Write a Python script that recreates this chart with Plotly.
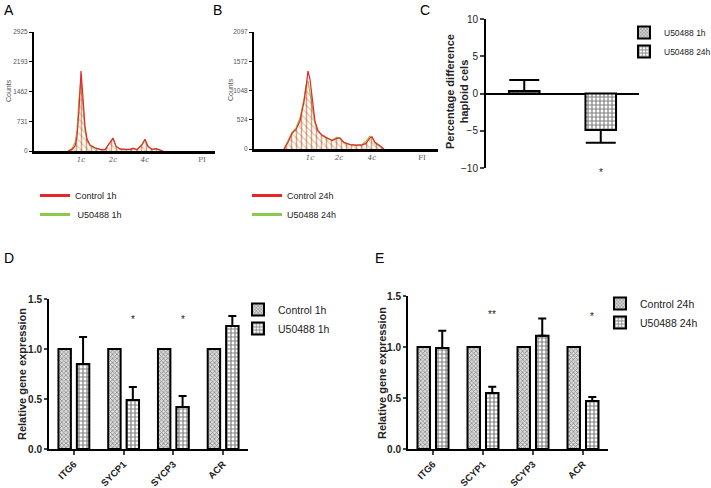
import plotly.graph_objects as go

W, H = 711, 488

# ---------------- data ----------------
# Panel A: flow cytometry histogram (1h)
hist_a_x = [34, 38, 41, 43, 45, 47, 49, 51, 53, 56, 61, 66, 71, 76, 79, 82, 86, 91, 96, 99, 103, 108, 111, 114, 118, 122, 126, 129]
ctrl_1h_counts = [0, 40, 120, 350, 1000, 1966, 1300, 600, 300, 150, 80, 40, 30, 200, 320, 120, 50, 40, 40, 70, 30, 150, 290, 120, 40, 60, 20, 0]
u_1h_counts = [0, 60, 200, 500, 1300, 1750, 1100, 500, 250, 130, 70, 40, 40, 220, 300, 100, 40, 40, 30, 50, 40, 170, 280, 100, 40, 50, 20, 0]
hist_a_ticks = [0, 731, 1462, 2193, 2925]
hist_a_xticks = [47, 79, 111, 168]
hist_a_xlabels = ["<i>1c</i>", "<i>2c</i>", "<i>4c</i>", "PI"]

# Panel B: flow cytometry histogram (24h)
hist_b_x = [30, 34, 38, 42, 46, 50, 52, 54, 56, 58, 61, 64, 68, 73, 78, 83, 86, 90, 96, 102, 108, 112, 116, 118, 121, 126, 130]
ctrl_24h_counts = [0, 120, 280, 350, 500, 850, 1100, 1398, 1250, 900, 500, 330, 250, 200, 150, 190, 200, 120, 80, 70, 70, 100, 200, 220, 120, 60, 0]
u_24h_counts = [0, 150, 300, 380, 560, 900, 1150, 1220, 1000, 750, 450, 320, 240, 190, 160, 210, 190, 110, 80, 70, 80, 140, 230, 200, 100, 40, 0]
hist_b_ticks = [0, 524, 1048, 1572, 2097]
hist_b_xticks = [56, 85, 118, 168]
hist_b_xlabels = ["<i>1c</i>", "<i>2c</i>", "<i>4c</i>", "FI"]

# Panel C: percentage difference haploid cells
c_groups = ["U50488 1h", "U50488 24h"]
c_values = [0.35, -4.9]
c_err_up = [1.45, 0.0]
c_err_down = [0.0, 1.7]
c_sig = ["", "*"]

# Panel D: relative gene expression 1h
d_genes = ["ITG6", "SYCP1", "SYCP3", "ACR"]
d_control = [1.0, 1.0, 1.0, 1.0]
d_treated = [0.85, 0.49, 0.42, 1.23]
d_treated_err = [0.27, 0.13, 0.11, 0.10]
d_sig = ["", "*", "*", ""]

# Panel E: relative gene expression 24h
e_genes = ["ITG6", "SCYP1", "SCYP3", "ACR"]
e_control = [1.0, 1.0, 1.0, 1.0]
e_treated = [0.99, 0.55, 1.11, 0.47]
e_treated_err = [0.17, 0.06, 0.17, 0.04]
e_sig = ["", "**", "", "*"]

# ---------------- helpers ----------------
def dx(a, b):
    return [a / W, b / W]

def dy(top, bottom):
    return [1 - bottom / H, 1 - top / H]

SANS = "Liberation Sans, Arial"
RED = "#e8262a"
GREEN = "#8cc84b"
TXT = "#222222"

fig = go.Figure()

# ---- histograms ----
def add_hist(xs, ys, color, shape, xa, ya):
    fig.add_trace(go.Scatter(
        x=xs, y=ys, mode="lines", line=dict(color=color, width=1.2),
        fill="tozeroy", fillcolor="rgba(0,0,0,0)",
        fillpattern=dict(shape=shape, fgcolor=color, bgcolor="rgba(255,255,255,0)", size=5, solidity=0.3),
        xaxis=xa, yaxis=ya, showlegend=False, hoverinfo="skip"))

add_hist(hist_a_x, u_1h_counts, GREEN, "\\", "x", "y")
add_hist(hist_a_x, ctrl_1h_counts, RED, "|", "x", "y")
add_hist(hist_b_x, u_24h_counts, GREEN, "\\", "x2", "y2")
add_hist(hist_b_x, ctrl_24h_counts, RED, "|", "x2", "y2")

# legend-only line traces
for name, color, lg in [("Control 1h", RED, "legend"), (" U50488 1h", GREEN, "legend"),
                        ("Control 24h", RED, "legend2"), ("U50488 24h", GREEN, "legend2")]:
    fig.add_trace(go.Scatter(x=[None], y=[None], mode="lines", name=name,
                             line=dict(color=color, width=3), legend=lg, xaxis="x", yaxis="y"))

CTRL_PAT = dict(shape="x", size=3, solidity=0.45, fgcolor="#444444", bgcolor="#d8d8d8")
TRT_PAT = dict(shape="+", size=4, solidity=0.5, fgcolor="#000000", bgcolor="#ffffff")

# ---- panel C ----
c_pats = [CTRL_PAT, TRT_PAT]
c_cols = ["#d8d8d8", "white"]
for i in range(2):
    fig.add_trace(go.Bar(x=[i], y=[c_values[i]], name=c_groups[i], width=0.4, offset=-0.2,
                         marker=dict(color=c_cols[i], pattern=c_pats[i], line=dict(color="black", width=2)),
                         error_y=dict(type="data", symmetric=False, array=[c_err_up[i]], arrayminus=[c_err_down[i]],
                                      color="black", thickness=2, width=15),
                         xaxis="x3", yaxis="y3", legend="legend3"))

# ---- panels D and E ----
def add_gene_panel(genes, ctrl, trt, err, names, xa, ya, lg):
    idx = list(range(len(genes)))
    fig.add_trace(go.Bar(x=idx, y=ctrl, name=names[0], width=0.25, offset=-0.31,
                         marker=dict(color="#d8d8d8", pattern=CTRL_PAT, line=dict(color="black", width=2)),
                         xaxis=xa, yaxis=ya, legend=lg))
    fig.add_trace(go.Bar(x=idx, y=trt, name=names[1], width=0.25, offset=0.06,
                         marker=dict(color="white", pattern=TRT_PAT, line=dict(color="black", width=2)),
                         error_y=dict(type="data", symmetric=False, array=err, arrayminus=[0] * len(err),
                                      color="black", thickness=2, width=4),
                         xaxis=xa, yaxis=ya, legend=lg))

add_gene_panel(d_genes, d_control, d_treated, d_treated_err, ["Control 1h", "U50488 1h"], "x4", "y4", "legend4")
add_gene_panel(e_genes, e_control, e_treated, e_treated_err, ["Control 24h", "U50488 24h"], "x5", "y5", "legend5")

# ---------------- axes ----------------
hist_y = dict(showline=True, linecolor="black", linewidth=2, ticks="outside", ticklen=3, tickwidth=1,
              tickcolor="black", showgrid=False, zeroline=False, automargin=False,
              tickfont=dict(family=SANS, size=6.5, color="#555"))
hist_x = dict(showline=True, linecolor="black", linewidth=2.5, ticks="", showgrid=False, zeroline=False,
              automargin=False, tickfont=dict(family="DejaVu Serif, serif", size=7, color="#555"))

gene_y = dict(range=[0, 1.5], tickvals=[0, 0.5, 1.0, 1.5], ticktext=["0.0", "0.5", "1.0", "1.5"],
              showline=True, linecolor="black", linewidth=2, ticks="outside", ticklen=3, tickwidth=2,
              showgrid=False, zeroline=False, automargin=False,
              tickfont=dict(family=SANS, size=10, color=TXT, weight="bold"))
gene_x = dict(range=[-0.5, 3.5], showline=True, linecolor="black", linewidth=2, ticks="outside", ticklen=4,
              tickwidth=2, showgrid=False, zeroline=False, tickangle=-45, automargin=False,
              tickfont=dict(family=SANS, size=9.5, color=TXT, weight="bold"))

fig.update_layout(
    width=W, height=H, margin=dict(l=0, r=0, t=0, b=0, autoexpand=False),
    paper_bgcolor="white", plot_bgcolor="white", barmode="overlay",
    xaxis=dict(domain=dx(34, 215), range=[0, 181], tickvals=hist_a_xticks, ticktext=hist_a_xlabels, anchor="y", **hist_x),
    yaxis=dict(domain=dy(32, 151), range=[0, 2925], tickvals=hist_a_ticks, anchor="x", **hist_y),
    xaxis2=dict(domain=dx(254, 438), range=[0, 184], tickvals=hist_b_xticks, ticktext=hist_b_xlabels, anchor="y2", **hist_x),
    yaxis2=dict(domain=dy(32, 149), range=[0, 2097], tickvals=hist_b_ticks, anchor="x2", **hist_y),
    xaxis3=dict(domain=dx(486, 639), range=[-0.5, 1.5], showline=False, showticklabels=False, ticks="",
                showgrid=False, zeroline=False, anchor="y3", automargin=False),
    yaxis3=dict(domain=dy(19, 168), range=[-10, 10], tickvals=[-10, -5, 0, 5, 10], anchor="x3",
                showline=True, linecolor="black", linewidth=2, ticks="outside", ticklen=4, tickwidth=2,
                showgrid=False, zeroline=True, zerolinecolor="black", zerolinewidth=2, automargin=False,
                tickfont=dict(family=SANS, size=10, color=TXT)),
    xaxis4=dict(domain=dx(49, 248), tickvals=list(range(4)), ticktext=d_genes, anchor="y4", **gene_x),
    yaxis4=dict(domain=dy(299, 449), anchor="x4", **gene_y),
    xaxis5=dict(domain=dx(408, 608), tickvals=list(range(4)), ticktext=e_genes, anchor="y5", **gene_x),
    yaxis5=dict(domain=dy(296, 449), anchor="x5", **gene_y),
)

leg_common = dict(xanchor="left", yanchor="top", bgcolor="rgba(0,0,0,0)", tracegroupgap=0)
fig.update_layout(
    legend=dict(x=35 / W, y=1 - 181 / H, font=dict(family=SANS, size=9, color=TXT), **leg_common),
    legend2=dict(x=247 / W, y=1 - 181 / H, font=dict(family=SANS, size=9, color=TXT), **leg_common),
    legend3=dict(x=624 / W, y=1 - 18 / H, font=dict(family=SANS, size=8.5, color=TXT), **leg_common),
    legend4=dict(x=238 / W, y=1 - 295 / H, font=dict(family=SANS, size=10.5, color=TXT), **leg_common),
    legend5=dict(x=600 / W, y=1 - 289 / H, font=dict(family=SANS, size=10.5, color=TXT), **leg_common),
)

ann = []
# axis titles
for txt, px, py, size, col in [("Counts", 8, 91, 7, "#555"), ("Counts", 230, 90, 7, "#555"),
                               ("<b>Percentage difference<br>haploid cels</b>", 457, 92, 11, TXT),
                               ("<b>Relative gene expression</b>", 22, 374, 11, TXT),
                               ("<b>Relative gene expression</b>", 382, 373, 11, TXT)]:
    ann.append(dict(x=px / W, y=1 - py / H, xref="paper", yref="paper", text=txt, textangle=-90,
                    showarrow=False, xanchor="center", yanchor="middle",
                    font=dict(family=SANS, size=size, color=col)))

# significance stars
for i, s in enumerate(d_sig):
    if s:
        ann.append(dict(x=i + 0.185, y=1.3, xref="x4", yref="y4", text=s, showarrow=False,
                        font=dict(family=SANS, size=10, color=TXT)))
for i, s in enumerate(e_sig):
    if s:
        ann.append(dict(x=i + 0.185, y=1.32 if s == "**" else 1.3, xref="x5", yref="y5", text=s, showarrow=False,
                        font=dict(family=SANS, size=10, color=TXT)))
for i, s in enumerate(c_sig):
    if s:
        ann.append(dict(x=i, y=-0.03, xref="x3", yref="y3 domain", text=s, showarrow=False,
                        yanchor="middle", font=dict(family=SANS, size=10, color=TXT)))

# panel letters
for letter, px, py in [("A", 9, 10), ("B", 217, 10), ("C", 425, 10), ("D", 9, 258), ("E", 379, 258)]:
    ann.append(dict(x=px / W, y=1 - py / H, xref="paper", yref="paper", text=letter, showarrow=False,
                    xanchor="center", yanchor="middle", font=dict(family=SANS, size=14, color="black")))
fig.update_layout(annotations=ann)

fig.write_html("out.html", config={"displayModeBar": False},
               post_script="document.body.style.margin='0px';document.documentElement.style.overflow='hidden';")
